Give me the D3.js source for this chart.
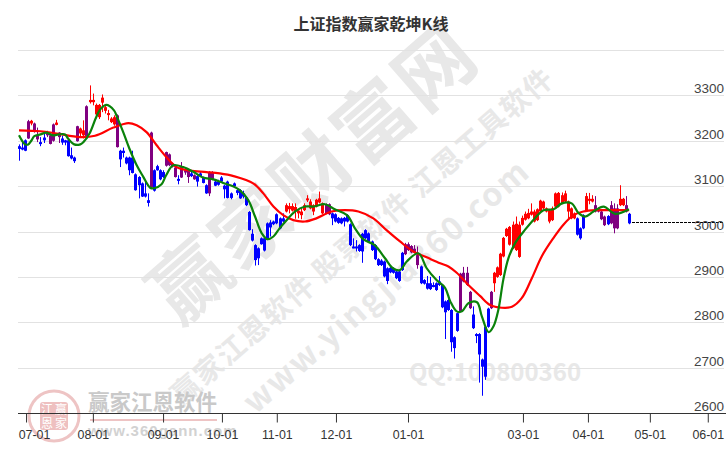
<!DOCTYPE html>
<html><head><meta charset="utf-8">
<script src="https://cdn.jsdelivr.net/npm/d3@7/dist/d3.min.js"></script>
<style>html,body{margin:0;padding:0;background:#fff}svg{display:block}</style>
</head><body><div id="c"></div>
<script>
const chartTitle="上证指数赢家乾坤K线";
const yTicks=[2600,2700,2800,2900,3000,3100,3200,3300];
const gridTicks=[2700,2800,2900,3000,3100,3200,3300,3400];
const xTickLabels=["07-01","08-01","09-01","10-01","11-01","12-01","01-01","03-01","04-01","05-01","06-01"];
const xTickIndex=[2.3,24.1,47,66.2,84.1,103.4,126.9,164.4,185.6,205.8,224.7];
const lastClose=3021;
const bodyTop=[3188,3185,3201,3243,3244,3238,3211,3197,3207,3219,3212,3236,3240,3218,3205,3201,3201,3168,3163,3232,3227,3223,3276,3290,3290,3279,3279,3295,3274,3261,3249,3252,3256,3178,3178,3163,3163,3163,3126,3120,3106,3084,3069,3218,3135,3144,3135,3131,3175,3170,3150,3141,3116,3142,3135,3135,3128,3124,3122,3128,3119,3102,3131,3131,3110,3110,3119,3101,3110,3084,3106,3091,3091,
3084,3075,3043,2995,2970,2963,2985,2985,3018,3020,3022,3038,3029,3029,3058,3056,3056,3054,3046,3044,3058,3073,3066,3058,3070,3073,3062,3060,3060,3040,3038,3030,3029,3030,3036,3016,2967,2967,2970,2995,3003,2996,2978,2970,2939,2936,2934,2919,2920,2919,2912,2912,2953,2972,2972,2968,2962,2948,2923,2893,2886,2886,2882,2886,2890,
2882,2846,2849,2827,2767,2820,2907,2909,2909,2867,2817,2774,2774,2718,2790,2830,2867,2909,2921,2951,2986,3006,3010,3015,3017,3015,3030,3039,3041,3044,3044,3049,3068,3066,3051,3047,3051,3084,3085,3080,3084,3066,3051,3040,3029,3007,3036,3078,3072,3072,3058,3051,3044,3033,3034,3058,3051,3051,3072,3072,3058,3039];
const bodyBottom=[3182,3181,3178,3205,3238,3221,3203,3195,3201,3212,3193,3200,3235,3208,3196,3196,3166,3161,3155,3199,3216,3212,3205,3285,3285,3258,3252,3284,3266,3260,3241,3236,3186,3159,3173,3150,3135,3129,3091,3102,3077,3077,3063,3097,3090,3135,3115,3120,3145,3146,3143,3120,3112,3119,3130,3120,3122,3115,3110,3122,3107,3084,3084,3114,3101,3103,3110,3093,3074,3074,3100,3085,3073,
3077,3058,3003,2980,2937,2941,2972,2958,2983,3009,3016,3018,3007,3022,3044,3049,3046,3045,3040,3036,3047,3072,3051,3044,3055,3064,3040,3040,3038,3029,3022,3019,3018,3022,3022,2970,2966,2966,2957,2956,2985,2978,2959,2939,2926,2926,2901,2891,2910,2909,2897,2891,2915,2950,2959,2954,2954,2926,2886,2885,2874,2873,2879,2871,2882,
2833,2822,2827,2756,2743,2781,2824,2890,2882,2831,2787,2771,2729,2702,2680,2790,2831,2886,2900,2904,2945,2990,2971,2963,2959,2944,3015,3026,3029,3037,3022,3025,3044,3051,3044,3022,3025,3055,3055,3062,3066,3044,3029,3029,2993,2985,3007,3047,3068,3066,3044,3044,3027,3014,3016,3018,3007,3007,3058,3058,3044,3018];
const highs=[3192,3197,3203,3246,3246,3240,3229,3208,3219,3222,3214,3238,3246,3219,3211,3202,3204,3185,3165,3233,3229,3245,3278,3322,3304,3282,3281,3302,3278,3268,3252,3256,3258,3180,3185,3165,3165,3178,3128,3122,3108,3113,3084,3220,3137,3147,3137,3135,3176,3172,3152,3143,3124,3153,3140,3137,3132,3126,3124,3131,3121,3104,3133,3133,3112,3114,3122,3103,3112,3086,3108,3093,3093,
3090,3077,3045,3005,2972,2965,2987,2987,3020,3025,3024,3040,3031,3040,3062,3063,3062,3062,3047,3051,3062,3080,3071,3060,3072,3088,3064,3062,3062,3042,3040,3032,3031,3032,3038,3018,2985,2981,2972,2997,3005,2998,2980,2972,2941,2939,2936,2921,2922,2921,2914,2914,2955,2975,2976,2970,2970,2967,2925,2895,2902,2900,2888,2888,2902,
2884,2848,2851,2829,2769,2822,2909,2922,2922,2869,2835,2776,2776,2720,2792,2832,2869,2911,2923,2953,2988,3008,3012,3022,3033,3022,3035,3044,3050,3062,3048,3051,3070,3068,3053,3049,3055,3086,3087,3086,3090,3068,3053,3042,3031,3009,3038,3085,3085,3080,3078,3053,3046,3035,3036,3067,3062,3060,3102,3074,3078,3041];
const lows=[3156,3179,3177,3204,3234,3218,3197,3188,3195,3208,3192,3198,3234,3195,3191,3190,3165,3159,3151,3198,3206,3205,3204,3282,3278,3256,3248,3263,3260,3245,3239,3233,3185,3142,3163,3148,3124,3128,3090,3073,3076,3075,3055,3095,3088,3134,3113,3118,3143,3144,3141,3119,3104,3118,3125,3107,3120,3114,3099,3120,3106,3083,3078,3113,3100,3101,3108,3073,3073,3071,3098,3080,3072,
3073,3056,3002,2978,2925,2926,2971,2956,2981,2989,3014,3016,3005,3020,3042,3040,3044,3028,3029,3027,3045,3065,3049,3036,3053,3062,3038,3038,3036,3014,3020,3017,3016,3011,3020,2968,2963,2956,2955,2931,2983,2976,2957,2937,2924,2924,2899,2884,2908,2907,2895,2889,2913,2948,2957,2952,2952,2918,2884,2883,2872,2871,2877,2869,2880,
2831,2763,2825,2735,2720,2779,2822,2888,2880,2829,2785,2754,2667,2638,2673,2788,2829,2867,2898,2902,2943,2988,2969,2961,2957,2942,3013,3024,3027,3035,3020,3023,3042,3049,3042,3018,3023,3053,3053,3060,3064,3029,3027,3027,2991,2982,3005,3045,3060,3064,3042,3042,3025,3012,3014,3016,2996,3005,3056,3056,3042,3016];
const kinds=[
 "bbbprppbbpppr","pbbbbbprrp","rrrrrrrrrp","bbbbbbbbbbp","bbbbppppb","pppbpbbbbpp","bbbbbbbbb",
 "bbbbbbbbbbbbbb","rrrrrrrrrrrrr","pp","bbbbbbbbbbbbbbbbbbbbbbbb","ppppp","bbbbbbb",
 "bbbbbb","pppp","bbbbbb","p","rrrrrrrrrrrrrrrrrrrrrrrrrrr","bbb","rrr","pppp","b","ppp","rr","p","b"
].join("");
const fastIdx=[0,1,2,3,4,5,7,9,11,13,15,16,18,20,21,23,25,26.4,28.4,31,32,34,36,38.4,40.5,42.7,44,46.5,48,50.3,53.6,57,60,63.4,66.6,70,72,74.8,77,79.2,81,83,85,87.3,90,93.3,96,99.8,103,107,109.6,112.3,116,119.4,122,124.3,126.5,130.3,133,136.2,139,140.7,142.8,144.5,146.6,149.4,151,153.2,154.8,156.4,158,159.7,161.9,165.1,168.4,171.1,174.4,177.1,180.3,182.5,184.7,187.4,190.7,194.5,199];
const fastVals=[3212,3200,3192,3192,3200,3210,3214,3218,3212,3214,3214,3205,3192,3192,3197,3216,3249,3268,3279,3267,3252,3219,3183,3146,3121,3097,3095,3104,3124,3146,3142,3131,3119,3115,3107,3099,3091,3069,3033,2996,2983,2989,3007,3025,3044,3055,3055,3060,3049,3036,3007,2983,2970,2941,2919,2915,2934,2952,2919,2893,2876,2846,2824,2824,2842,2844,2813,2778,2791,2828,2894,2942,2975,3004,3030,3047,3049,3062,3062,3041,3033,3044,3055,3039,3049];
const slowIdx=[0,7,12.3,19.9,24.8,30.8,35.7,38.4,41.6,44.9,48.2,51.4,55.8,61.2,65.5,70,76.4,79.7,83,86.2,89.5,93.3,97,102,106.3,110.7,115.6,119.9,124.3,128.6,133,137.4,140.1,142.8,146.6,150.4,153.7,157.5,160.8,164,167.3,170.6,174.4,177.6,180.9,184.1,188.5,194.5,199];
const slowVals=[3223,3221,3216,3208,3211,3229,3239,3234,3219,3190,3163,3142,3134,3131,3128,3122,3106,3084,3055,3036,3025,3022,3029,3044,3047,3044,3029,3003,2978,2956,2943,2930,2923,2909,2882,2858,2838,2832,2834,2853,2897,2946,2986,3015,3036,3044,3047,3047,3047];

const W=726,H=450;
const n=bodyTop.length;
const x=d3.scaleLinear().domain([0,n-1]).range([19,629]);
const y=d3.scaleLinear().domain([2600,3400]).range([413,50]);
const svg=d3.select("#c").append("svg").attr("width",W).attr("height",H);
const sans="'Liberation Sans',Arial,sans-serif", cjk="'Noto Sans CJK SC','Noto Sans',sans-serif";

// watermarks
const wm=svg.append("g").attr("fill","#e8e8e8").attr("font-family",cjk).attr("font-weight",700);
wm.append("text").attr("transform","translate(318,178) rotate(-41)").attr("text-anchor","middle").attr("dominant-baseline","middle").attr("font-size",77).attr("letter-spacing",4).text("赢家财富网");
wm.append("text").attr("transform","translate(364,238) rotate(-41)").attr("text-anchor","middle").attr("dominant-baseline","middle").attr("font-size",28.5).attr("letter-spacing",1.5).text("赢家江恩软件 股票软件 江恩工具软件");
wm.append("text").attr("transform","translate(388,288) rotate(-41)").attr("text-anchor","middle").attr("dominant-baseline","middle").attr("font-size",32).attr("letter-spacing",2).text("www.yingjia360.com");
wm.append("text").attr("x",495).attr("y",381).attr("text-anchor","middle").attr("font-size",24).text("QQ:100800360");

// logo
const lg=svg.append("g");
lg.append("circle").attr("cx",54).attr("cy",416).attr("r",25).attr("fill","none").attr("stroke","#eec4c4").attr("stroke-width",3);
lg.append("rect").attr("x",40).attr("y",402).attr("width",28).attr("height",28).attr("rx",3).attr("fill","#eec0c0");
[["江",47,414],["赢",61,414],["恩",47,428],["家",61,428]].forEach(d=>lg.append("text").attr("x",d[1]).attr("y",d[2]).attr("text-anchor","middle").attr("font-family",cjk).attr("font-size",12).attr("fill","#fff").text(d[0]));
lg.append("text").attr("x",88).attr("y",410).attr("font-family",cjk).attr("font-size",21.5).attr("font-weight",700).attr("fill","#c9c9c9").text("赢家江恩软件");
lg.append("line").attr("x1",90).attr("x2",217).attr("y1",420).attr("y2",420).attr("stroke","#eec4c4").attr("stroke-width",2);
lg.append("text").attr("x",88).attr("y",436).attr("font-family",sans).attr("font-size",15).attr("font-weight",700).attr("letter-spacing",1).attr("fill","#d2d2d2").text("www.360gann.com");

// grid
svg.append("g").selectAll("line").data(gridTicks).join("line")
 .attr("x1",18).attr("x2",724).attr("y1",d=>Math.round(y(d))+.5).attr("y2",d=>Math.round(y(d))+.5).attr("stroke","#e2e2e2");

// candles
const colour={r:"#ff0000",b:"#0000ff",p:"#800080"};
const c=svg.append("g");
c.selectAll("line").data(d3.range(n)).join("line")
 .attr("x1",i=>Math.round(x(i))+.5).attr("x2",i=>Math.round(x(i))+.5).attr("y1",i=>y(highs[i])).attr("y2",i=>y(lows[i]))
 .attr("stroke",i=>colour[kinds[i]]).attr("stroke-width",1);
c.selectAll("rect").data(d3.range(n)).join("rect")
 .attr("x",i=>Math.round(x(i))-1).attr("width",3).attr("y",i=>y(bodyTop[i])).attr("height",i=>Math.max(2,y(bodyBottom[i])-y(bodyTop[i])))
 .attr("fill",i=>colour[kinds[i]]);

// moving lines
const line=(ix,v)=>d3.line().x(i=>x(ix[i])).y(i=>y(v[i])).curve(d3.curveCatmullRom)(d3.range(ix.length));
svg.append("path").attr("d",line(slowIdx,slowVals)).attr("fill","none").attr("stroke","#ff0000").attr("stroke-width",2.2);
svg.append("path").attr("d",line(fastIdx,fastVals)).attr("fill","none").attr("stroke","#0a820a").attr("stroke-width",2.2);

// last level
svg.append("line").attr("x1",x(n-1)+3).attr("x2",723).attr("y1",Math.round(y(lastClose))+.5).attr("y2",Math.round(y(lastClose))+.5).attr("stroke","#000").attr("stroke-dasharray","3 1");

// axes
const ax=svg.append("g").attr("transform","translate(0,413.5)")
 .call(d3.axisBottom(x).tickValues(xTickIndex).tickFormat((d,i)=>xTickLabels[i]).tickSize(9).tickSizeOuter(0));
ax.select(".domain").attr("d","M18,0H726").attr("stroke","#333");
ax.selectAll(".tick line").attr("stroke","#333");
ax.selectAll(".tick text").attr("font-family",sans).attr("font-size",12.4).attr("fill","#333").attr("y",17);
ax.select(".tick text").attr("dx",8);
const ay=svg.append("g").attr("transform","translate(724,0)")
 .call(d3.axisLeft(y).tickValues(yTicks).tickFormat(d3.format("d")).tickSize(0).tickPadding(0));
ay.select(".domain").remove();
ay.selectAll(".tick text").attr("font-family",sans).attr("font-size",13.5).attr("fill","#444").attr("dy","-2.4px");

svg.append("text").attr("x",371).attr("y",30).attr("text-anchor","middle").attr("font-family",cjk).attr("font-size",16).attr("font-weight",700).attr("fill","#333").text(chartTitle);
</script></body></html>
